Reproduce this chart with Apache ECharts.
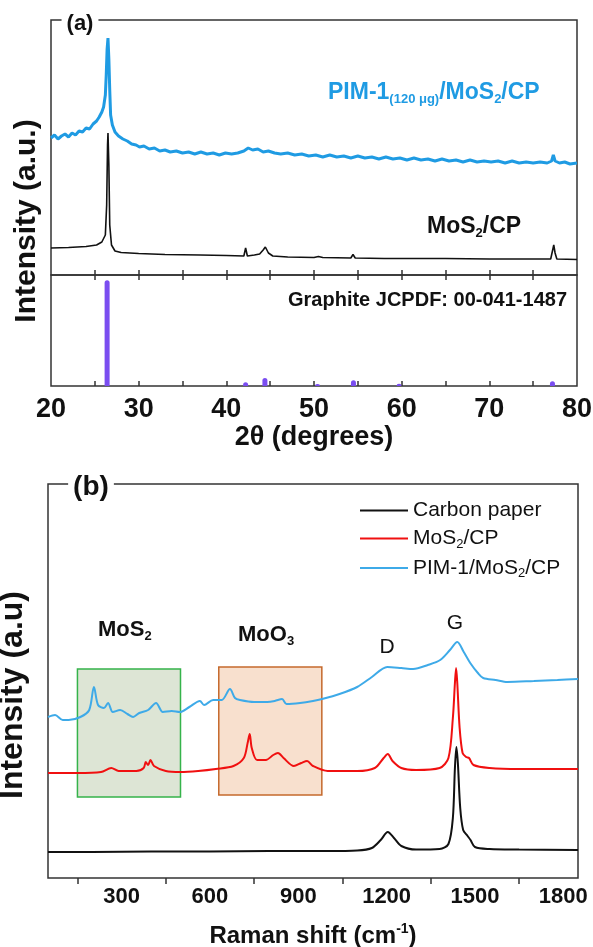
<!DOCTYPE html>
<html>
<head>
<meta charset="utf-8">
<script src="https://cdn.jsdelivr.net/npm/echarts@6/dist/echarts.min.js"></script>
<style>
  html, body { margin: 0; padding: 0; background: #fff; }
  #chart { width: 593px; height: 947px; }
</style>
</head>
<body>
<div id="chart"></div>
<script>
// ---- (a) XRD data: [2theta, intensity a.u.] ----
const xrdPim = [
  [20.0,137],[20.4,140],[20.8,136],[21.2,139],[21.6,141],[22.0,138],[22.4,142],[22.8,140],
  [23.2,144],[23.6,143],[24.0,147],[24.4,146],[24.8,151],[25.2,154],[25.5,158],[25.8,163],
  [26.0,168],[26.2,180],[26.3,200],[26.4,226],[26.5,237],[26.6,216],[26.7,185],[26.8,160],
  [27.0,150],[27.3,143],[27.7,139],[28.2,136],[28.7,134],[29.2,131],[29.7,130],[30.1,128],
  [30.6,129],[31.2,126],[31.8,127],[32.4,124],[33.0,125],[33.6,123],[34.3,124],[35.0,122],
  [35.7,123],[36.4,121],[37.1,123],[37.8,121],[38.5,122],[39.2,120],[39.9,122],[40.6,121],
  [41.3,122],[42.0,124],[42.5,127],[43.0,125],[43.6,126],[44.2,123],[44.8,124],[45.5,122],
  [46.2,121],[47.0,122],[47.8,120],[48.6,121],[49.4,119],[50.2,120],[51.0,118],[51.8,120],
  [52.6,118],[53.4,119],[54.2,117],[55.0,119],[55.8,117],[56.6,118],[57.4,116],[58.2,118],
  [59.0,116],[59.8,117],[60.6,115],[61.4,117],[62.2,115],[63.0,116],[63.8,114],[64.6,116],
  [65.4,114],[66.2,115],[67.0,113],[67.8,115],[68.6,113],[69.4,114],[70.2,113],[71.0,114],
  [71.8,112],[72.6,114],[73.4,112],[74.2,113],[75.0,112],[75.8,113],[76.6,112],[77.1,114],
  [77.3,120],[77.5,114],[78.0,112],[78.6,113],[79.2,111],[80.0,112]
];
const xrdMos = [
  [20,27],[22,27.5],[24,28.5],[25.2,30],[25.8,33],[26.2,40],[26.35,70],[26.45,130],[26.5,142],
  [26.6,110],[26.7,50],[26.9,30],[27.3,24],[28,22.5],[30,21.5],[33,20.5],[37,20],[40,19.5],
  [42.0,19],[42.2,27],[42.4,19],[43.2,20],[43.8,21],[44.2,25],[44.45,28],[44.8,22],[45.3,19],
  [47,18],[50,17.5],[50.5,18.5],[51,17.5],[54.2,17],[54.45,20.5],[54.7,17],[58,16.5],[60,16.5],
  [65,16.5],[70,16],[77.0,16],[77.2,24],[77.35,30],[77.5,22],[77.7,16],[80,15.5]
];
const graphiteRef = [[26.4,100],[42.2,3.5],[44.4,7.5],[50.4,2],[54.5,5.5],[59.7,2.2],[77.2,4.5]];
const xrdTicks = [25, 30, 35, 40, 45, 50, 55, 60, 65, 70, 75];

// ---- (b) Raman data: [shift cm-1, intensity a.u.] ----
const ramanCP = [
  [50,26],[200,26],[400,26.5],[600,26.5],[800,27],[1000,27],[1100,27.5],[1150,30],[1180,38],
  [1204,46],[1225,40],[1250,32],[1300,28.5],[1380,29],[1410,34],[1425,60],[1432,110],[1437,131],
  [1442,115],[1450,70],[1460,48],[1475,42],[1485,38],[1500,31],[1550,29],[1650,28.5],[1850,28]
];
const ramanMos = [
  [50,105],[150,105],[230,106],[265,110],[290,107],[350,107],[375,110],[382,116],[390,113],
  [398,118],[410,112],[450,107],[500,106],[560,107],[620,109],[680,112],[715,120],[728,135],
  [735,144],[742,130],[760,118],[790,118],[815,123],[831,125],[850,120],[885,112],[910,115],
  [930,117],[950,112],[1000,107],[1100,107],[1160,110],[1190,120],[1204,124],[1220,117],
  [1250,110],[1300,108],[1380,110],[1410,120],[1425,160],[1432,195],[1436,210],[1440,195],
  [1448,150],[1458,125],[1470,121],[1480,120],[1495,113],[1550,110],[1650,109],[1850,109]
];
const ramanPim = [
  [50,161],[74,163],[100,158],[120,158],[160,161],[190,168],[206,191],[220,173],[240,170],
  [254,175],[270,166],[295,168],[320,164],[339,161],[360,165],[390,168],[417,175],[440,166],
  [470,167],[498,166],[530,171],[566,177],[580,173],[611,178],[640,178],[668,189],[685,180],
  [702,178],[750,176],[794,176],[820,177],[845,179],[860,174],[906,175],[950,177],[981,179],
  [1040,184],[1100,191],[1150,201],[1202,211],[1250,210],[1290,209],[1340,213],[1382,218],
  [1415,228],[1440,236],[1462,226],[1484,215],[1510,205],[1528,200],[1570,198],[1610,196],
  [1700,197],[1780,198],[1850,199]
];
const ramanLabels = [300, 600, 900, 1200, 1500, 1800];
const ramanTicks = [150, 450, 750, 1050, 1350, 1650];

const FONT = '"Liberation Sans", Arial, sans-serif';
const AXIS = '#333';

const chart = echarts.init(document.getElementById('chart'));

const gridBase = { show: true, borderColor: AXIS, borderWidth: 1.5, backgroundColor: 'transparent', outerBoundsMode: 'none' };
const noY = { type: 'value', show: false };

const option = {
  animation: false,
  grid: [
    Object.assign({ left: 51, right: 16, top: 20, height: 255 }, gridBase),
    Object.assign({ left: 51, right: 16, top: 275, height: 111 }, gridBase),
    Object.assign({ left: 48, right: 15, top: 484, height: 394 }, gridBase)
  ],
  xAxis: [
    {
      type: 'value', gridIndex: 0, min: 20, max: 80,
      axisLine: { show: false }, splitLine: { show: false }, axisLabel: { show: false },
      axisTick: { inside: true, length: 5, customValues: xrdTicks, lineStyle: { color: AXIS, width: 1.5 } }
    },
    {
      type: 'value', gridIndex: 1, min: 20, max: 80, interval: 10,
      axisLine: { show: false }, splitLine: { show: false },
      axisTick: { inside: true, length: 5, customValues: xrdTicks, lineStyle: { color: AXIS, width: 1.5 } },
      axisLabel: { fontFamily: FONT, fontWeight: 'bold', fontSize: 27, color: '#111', margin: 10 },
      name: '2θ (degrees)', nameLocation: 'middle', nameGap: 38,
      nameTextStyle: { fontFamily: FONT, fontWeight: 'bold', fontSize: 27, color: '#111' }
    },
    {
      type: 'value', gridIndex: 1, min: 20, max: 80, position: 'top',
      axisLine: { show: false }, splitLine: { show: false }, axisLabel: { show: false },
      axisTick: { inside: true, length: 5, customValues: xrdTicks, lineStyle: { color: AXIS, width: 1.5 } }
    },
    {
      type: 'value', gridIndex: 2, min: 50, max: 1850,
      axisLine: { show: false }, splitLine: { show: false },
      axisTick: { inside: false, length: 6, customValues: ramanTicks, lineStyle: { color: AXIS, width: 1.5 } },
      axisLabel: {
        customValues: ramanLabels, formatter: (v) => String(v),
        fontFamily: FONT, fontWeight: 'bold', fontSize: 22, color: '#111', margin: 8
      },
      name: '{n|Raman shift (cm}{s|-1}{n|)}', nameLocation: 'middle', nameGap: 44,
      nameTextStyle: {
        rich: {
          n: { fontFamily: FONT, fontWeight: 'bold', fontSize: 24, lineHeight: 28, color: '#111' },
          s: { fontFamily: FONT, fontWeight: 'bold', fontSize: 14, lineHeight: 14, verticalAlign: 'top', color: '#111' }
        }
      }
    }
  ],
  yAxis: [
    Object.assign({ gridIndex: 0, min: 0, max: 255 }, noY),
    Object.assign({ gridIndex: 1, min: 0, max: 105 }, noY),
    Object.assign({ gridIndex: 2, min: 0, max: 394 }, noY)
  ],
  legend: {
    data: ['Carbon paper', 'MoS2/CP', 'PIM-1/MoS2/CP'],
    orient: 'vertical', left: 355, top: 495, itemWidth: 48, itemHeight: 2, itemGap: 7,
    icon: 'rect', selectedMode: false,
    formatter: (name) => {
      if (name === 'Carbon paper') return '{n|Carbon paper}';
      if (name === 'MoS2/CP') return '{n|MoS}{s|2}{n|/CP}';
      return '{n|PIM-1/MoS}{s|2}{n|/CP}';
    },
    textStyle: {
      rich: {
        n: { fontFamily: FONT, fontSize: 21, lineHeight: 24, color: '#111' },
        s: { fontFamily: FONT, fontSize: 13, lineHeight: 12, verticalAlign: 'bottom', color: '#111' }
      }
    }
  },
  series: [
    {
      name: 'xrd-pim', type: 'line', xAxisIndex: 0, yAxisIndex: 0, data: xrdPim,
      symbol: 'none', lineStyle: { color: '#1f9be3', width: 3 }, itemStyle: { color: '#1f9be3' }
    },
    {
      name: 'xrd-mos', type: 'line', xAxisIndex: 0, yAxisIndex: 0, data: xrdMos,
      symbol: 'none', lineStyle: { color: '#111', width: 1.6 }, itemStyle: { color: '#111' }
    },
    {
      name: 'graphite', type: 'bar', xAxisIndex: 1, yAxisIndex: 1, data: graphiteRef,
      barWidth: 5, itemStyle: { color: '#7a4df0', borderRadius: [2.5, 2.5, 0, 0] }
    },
    {
      name: 'boxes', type: 'line', xAxisIndex: 3, yAxisIndex: 2, data: [], z: 1, symbol: 'none',
      markArea: {
        silent: true,
        label: { show: false },
        data: [
          [{ coord: [150, 209], itemStyle: { color: '#dde5d5', borderColor: '#35b34a', borderWidth: 1.5 } }, { coord: [500, 81] }],
          [{ coord: [630, 211], itemStyle: { color: '#f8e0ce', borderColor: '#c5692c', borderWidth: 1.5 } }, { coord: [980, 83] }]
        ]
      }
    },
    {
      name: 'Carbon paper', type: 'line', xAxisIndex: 3, yAxisIndex: 2, data: ramanCP, z: 3,
      symbol: 'none', smooth: 0.3, lineStyle: { color: '#111', width: 2 }, itemStyle: { color: '#111' }
    },
    {
      name: 'MoS2/CP', type: 'line', xAxisIndex: 3, yAxisIndex: 2, data: ramanMos, z: 3,
      symbol: 'none', smooth: 0.3, lineStyle: { color: '#f01010', width: 2 }, itemStyle: { color: '#f01010' }
    },
    {
      name: 'PIM-1/MoS2/CP', type: 'line', xAxisIndex: 3, yAxisIndex: 2, data: ramanPim, z: 3,
      symbol: 'none', smooth: 0.3, lineStyle: { color: '#3eaae8', width: 2 }, itemStyle: { color: '#3eaae8' }
    }
  ],
  graphic: [
    { type: 'text', x: 80, y: 24, z: 100, style: { text: '(a)', font: 'bold 22px ' + FONT, fill: '#111', align: 'center', verticalAlign: 'middle', backgroundColor: '#fff', padding: [0, 5] } },
    { type: 'text', x: 91, y: 487, z: 100, style: { text: '(b)', font: 'bold 28px ' + FONT, fill: '#111', align: 'center', verticalAlign: 'middle', backgroundColor: '#fff', padding: [0, 5] } },
    { type: 'text', x: 27, y: 221, rotation: Math.PI / 2, style: { text: 'Intensity (a.u.)', font: 'bold 30px ' + FONT, fill: '#111', align: 'center', verticalAlign: 'middle' } },
    { type: 'text', x: 13, y: 695, rotation: Math.PI / 2, style: { text: 'Intensity (a.u)', font: 'bold 32px ' + FONT, fill: '#111', align: 'center', verticalAlign: 'middle' } },
    {
      type: 'text', x: 328, y: 93, style: {
        text: '{n|PIM-1}{s|(120 μg)}{n|/MoS}{s|2}{n|/CP}', align: 'left', verticalAlign: 'middle',
        rich: {
          n: { fontFamily: FONT, fontWeight: 'bold', fontSize: 23, lineHeight: 26, fill: '#1f9be3' },
          s: { fontFamily: FONT, fontWeight: 'bold', fontSize: 13, lineHeight: 13, verticalAlign: 'bottom', fill: '#1f9be3' }
        }
      }
    },
    {
      type: 'text', x: 427, y: 227, style: {
        text: '{n|MoS}{s|2}{n|/CP}', align: 'left', verticalAlign: 'middle',
        rich: {
          n: { fontFamily: FONT, fontWeight: 'bold', fontSize: 23, lineHeight: 26, fill: '#111' },
          s: { fontFamily: FONT, fontWeight: 'bold', fontSize: 13, lineHeight: 13, verticalAlign: 'bottom', fill: '#111' }
        }
      }
    },
    { type: 'text', x: 567, y: 300, style: { text: 'Graphite JCPDF: 00-041-1487', font: 'bold 20px ' + FONT, fill: '#111', align: 'right', verticalAlign: 'middle' } },
    {
      type: 'text', x: 98, y: 630, style: {
        text: '{n|MoS}{s|2}', align: 'left', verticalAlign: 'middle',
        rich: {
          n: { fontFamily: FONT, fontWeight: 'bold', fontSize: 22, lineHeight: 26, fill: '#111' },
          s: { fontFamily: FONT, fontWeight: 'bold', fontSize: 13, lineHeight: 13, verticalAlign: 'bottom', fill: '#111' }
        }
      }
    },
    {
      type: 'text', x: 238, y: 635, style: {
        text: '{n|MoO}{s|3}', align: 'left', verticalAlign: 'middle',
        rich: {
          n: { fontFamily: FONT, fontWeight: 'bold', fontSize: 22, lineHeight: 26, fill: '#111' },
          s: { fontFamily: FONT, fontWeight: 'bold', fontSize: 13, lineHeight: 13, verticalAlign: 'bottom', fill: '#111' }
        }
      }
    },
    { type: 'text', x: 387, y: 647, style: { text: 'D', font: '21px ' + FONT, fill: '#111', align: 'center', verticalAlign: 'middle' } },
    { type: 'text', x: 455, y: 623, style: { text: 'G', font: '21px ' + FONT, fill: '#111', align: 'center', verticalAlign: 'middle' } }
  ]
};

chart.setOption(option);
window.addEventListener('resize', () => chart.resize());
</script>
</body>
</html>
